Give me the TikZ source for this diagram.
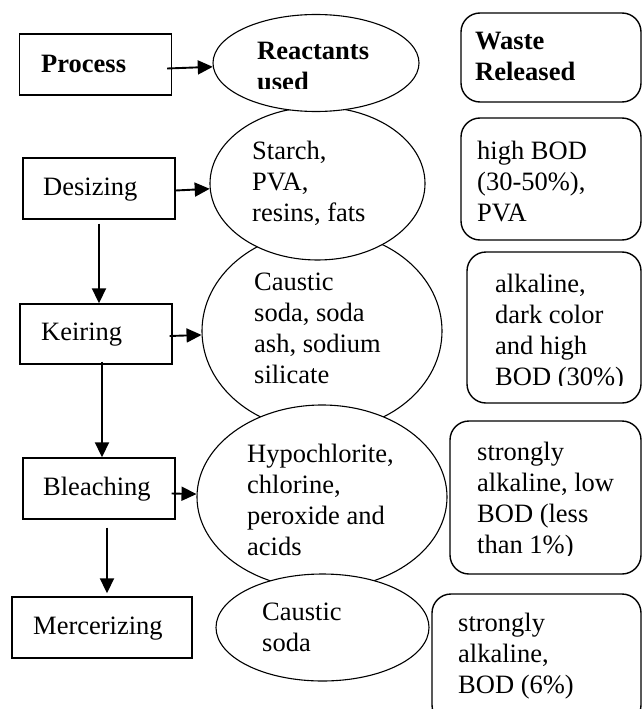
\documentclass[tikz,border=0pt]{standalone}
\usepackage{fontspec}
\setmainfont{Liberation Serif}
\usetikzlibrary{
    arrows.meta,
    shapes.geometric
}
\tikzset{
  procbox/.style = {draw, line width=1.4pt, fill=white, minimum width=152pt,
                    minimum height=61pt, inner sep=0pt},
  chem/.style    = {draw, ellipse, line width=1.1pt, fill=white, inner sep=0pt},
  waste/.style   = {draw, rounded corners=19pt, line width=1.4pt, fill=white,
                    inner sep=0pt},
  txt/.style     = {anchor=north west, inner sep=0pt, align=left, yshift=21.7pt,
                    font=\fontsize{26.5}{31}\selectfont, execute at begin node=\strut},
  txtb/.style    = {txt, font=\fontsize{26.5}{31}\selectfont\bfseries},
  arr/.style     = {-{Triangle[length=15pt, width=14pt]}, line width=1.9pt}
}

\begin{document}
\begin{tikzpicture}[x=1pt, y=-1pt]
\useasboundingbox (0,0) rectangle (643,709);

% Process column
\node[procbox] (pBox) at (95.5,64.5) {};
\node[procbox] (dBox) at (99,188.5) {};
\node[procbox, minimum height=60pt] (kBox) at (96,334) {};
\node[procbox] (bBox) at (99,488.5) {};
\node[procbox, minimum width=180pt] (mBox) at (102,627.5) {};

% Reactants column (overlapping ellipses, later ones on top)
\node[chem, minimum width=240pt, minimum height=200pt] (kEll) at (322,331) {};
\node[chem, minimum width=215pt, minimum height=153pt] (dEll) at (317.5,183.5) {};
\node[chem, minimum width=206pt, minimum height=97pt]  (rEll) at (316,63) {};
\node[chem, minimum width=250pt, minimum height=184pt] (bEll) at (322,497) {};
\node[chem, minimum width=213pt, minimum height=107pt] (mEll) at (322.5,627.5) {};

% Waste column
\node[waste, minimum width=180pt, minimum height=89pt]  (wHead) at (551,57.5) {};
\node[waste, minimum width=180pt, minimum height=122pt] (wDes)  at (551,179) {};
\node[waste, minimum width=174pt, minimum height=151pt] (wKei)  at (554,327.5) {};
\node[waste, minimum width=191pt, minimum height=153pt] (wBle)  at (545.5,497.5) {};
\node[waste, minimum width=209pt, minimum height=130pt] (wMer)  at (536.5,659) {};

% texts
\node[txtb] (pTxt) at (41,72) {Process};
\node[txt]  (dTxt) at (43,195) {Desizing};
\node[txt]  (kTxt) at (41,340) {Keiring};
\node[txt]  (bTxt) at (43,495) {Bleaching};
\node[txt]  (mTxt) at (33,634) {Mercerizing};

\begin{scope}
  \clip (240,30) rectangle (410,88);
  \node[txtb] (rTxt) at (257,64) {Reactants\\used};
\end{scope}
\node[txt] (dEllTxt) at (252,163) {Starch,\\PVA,\\resins, fats};
\node[txt] (kEllTxt) at (254,294) {Caustic\\soda, soda\\ash, sodium\\silicate};
\begin{scope}
  \clip (240,430) rectangle (440,555);
  \node[txt] (bEllTxt) at (247,466) {Hypochlorite,\\chlorine,\\peroxide and\\acids};
\end{scope}
\node[txt] (mEllTxt) at (262,624) {Caustic\\soda};

\node[txtb] (wHeadTxt) at (475,54) {Waste\\Released};
\node[txt]  (wDesTxt)  at (477,163) {high BOD\\(30-50\%),\\PVA};
\begin{scope}
  \clip (470,260) rectangle (640,385);
  \node[txt] (wKeiTxt) at (495,296) {alkaline,\\dark color\\and high\\BOD (30\%)};
\end{scope}
\begin{scope}
  \clip (460,430) rectangle (640,555);
  \node[txt] (wBleTxt) at (477,464) {strongly\\alkaline, low\\BOD (less\\than 1\%)};
\end{scope}
\node[txt] (wMerTxt) at (458,635) {strongly\\alkaline,\\BOD (6\%)};

% arrows
\draw[arr] ([xshift=-5pt,yshift=-4pt]pBox.east) -- (rEll);
\draw[arr] ([yshift=-2pt]dBox.east) -- (dEll);
\draw[arr] ([xshift=-3pt,yshift=-2pt]kBox.east) -- (kEll);
\draw[arr] ([xshift=-4pt,yshift=-5pt]bBox.east) -- (bEll);
\draw[arr] ([yshift=-4pt]dBox.south) -- (dBox.south |- kBox.north);
\draw[arr] ([xshift=6pt,yshift=3pt]kBox.south) -- ([xshift=6pt]kBox.south |- bBox.north);
\draw[arr] ([xshift=5pt,yshift=-8pt]mBox.north |- bBox.south) -- ([xshift=5pt,yshift=3pt]mBox.north);
\end{tikzpicture}
\end{document}
